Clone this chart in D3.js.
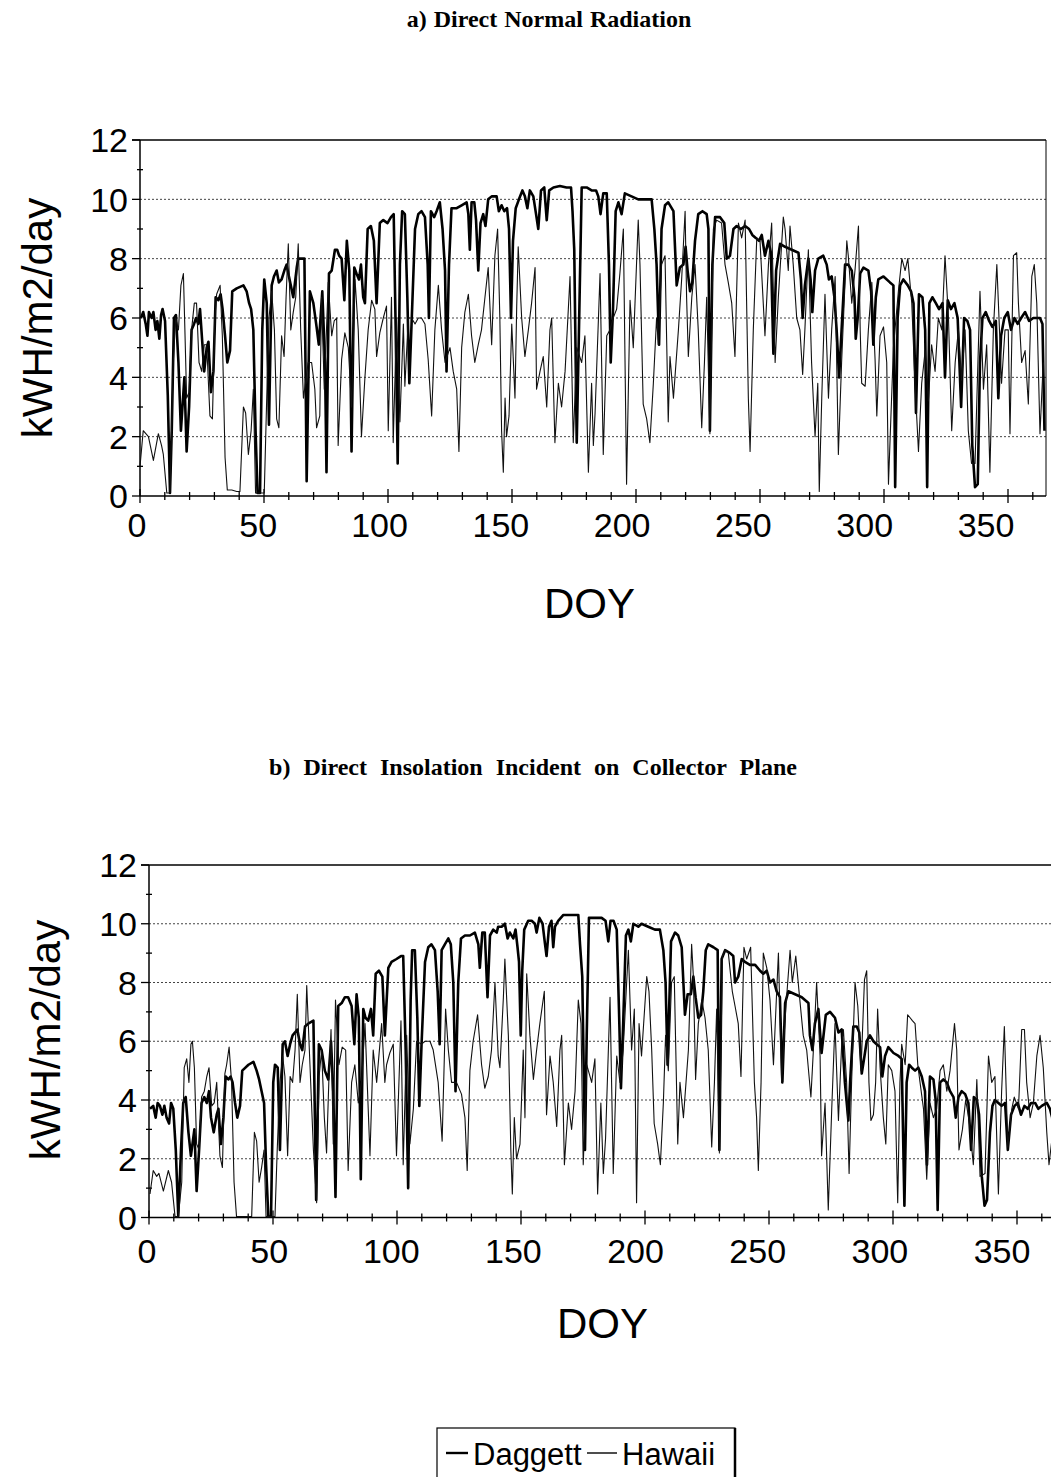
<!DOCTYPE html>
<html><head><meta charset="utf-8">
<script src="https://cdn.jsdelivr.net/npm/d3@7"></script>
<style>body{margin:0;background:#fff}svg{display:block}</style>
</head><body>
<svg id="c" width="1051" height="1477"></svg>
<script>
// ---------- data ----------
const xTickLabels = [0, 50, 100, 150, 200, 250, 300, 350];
const yTickLabels = [0, 2, 4, 6, 8, 10, 12];
const seriesNames = ["Daggett", "Hawaii"];
const panelTitles = ["a) Direct Normal Radiation", "b) Direct Insolation Incident on Collector Plane"];
const xTitle = "DOY";
const yTitle = "kWH/m2/day";

// [DOY, kWh/m2/day]
const dniDaggett = [[0.4,6.0],[1.3,6.2],[2.3,5.8],[3,5.4],[3.6,6.2],[4.7,6.0],[5.4,6.2],[6.3,5.6],[7,5.9],[7.8,5.3],[8.5,6.1],[9.1,6.3],[10.1,5.9],[11.2,3.4],[12.1,0.1],[12.8,2.2],[13.7,6.0],[14.5,6.1],[15.5,4.5],[16.5,2.2],[17.9,4.0],[18.8,1.5],[19.8,3.0],[20.8,5.6],[21.8,5.8],[22.6,6.0],[23.5,5.8],[24.2,6.3],[25.1,5.2],[25.9,4.2],[26.9,5.0],[27.6,5.2],[28.6,3.5],[29.6,4.2],[30.5,6.7],[31.6,6.6],[32.5,6.8],[33.3,6.3],[34.3,5.4],[35.2,4.5],[36.3,4.9],[37.2,6.9],[39,7.0],[41.7,7.1],[43,6.9],[44,6.5],[44.8,6.3],[45.7,5.6],[46.6,2.2],[47.4,0.1],[48.4,0.1],[49.3,5.6],[50.1,7.3],[51.1,6.5],[52,2.4],[53.1,7.1],[54,7.4],[55.1,7.6],[56,7.2],[57.1,7.3],[58.2,7.6],[59.1,7.8],[59.8,7.5],[60.8,7.1],[61.8,6.7],[63.2,7.7],[63.8,8.0],[65.2,8.0],[66.3,8.0],[67.2,0.5],[68.5,6.9],[69.9,6.5],[71.2,5.7],[72.1,5.1],[73.5,6.9],[74.6,4.5],[75.2,0.8],[76.2,7.5],[77.3,7.6],[78.6,8.3],[79.5,8.3],[80.3,8.1],[81.3,8.0],[82.4,6.6],[83.4,8.6],[84.4,7.6],[85.3,1.5],[86.4,7.7],[87.3,7.5],[88.3,7.3],[89.1,7.8],[90,6.7],[90.7,6.5],[91.8,9.0],[93.1,9.1],[94.3,8.6],[95.4,6.5],[96.7,9.2],[98.1,9.3],[99.8,9.2],[101.2,9.4],[102.3,9.5],[103.1,5.6],[103.9,1.1],[104.8,7.8],[105.7,9.6],[106.8,9.5],[107.8,6.7],[108.6,3.8],[109.5,5.8],[110.9,9.0],[112.2,9.5],[113.5,9.6],[114.9,9.4],[116,7.8],[116.5,6.0],[117.3,9.6],[118.6,9.4],[119.6,9.6],[120.9,9.9],[122,9.0],[123,7.6],[123.6,4.2],[124.6,7.8],[125.6,9.7],[127.7,9.7],[129.7,9.8],[131.7,9.9],[132.4,9.5],[133,8.3],[133.7,9.9],[134.8,9.9],[135.5,9.3],[136.4,7.6],[137.3,9.2],[138.4,9.5],[139.3,9.1],[140.4,10.0],[141.8,10.1],[143.8,10.1],[144.7,9.6],[145.8,9.8],[146.9,9.6],[148,9.7],[148.8,9.0],[149.6,6.0],[150.4,8.6],[151.5,9.7],[152.8,10.0],[154.2,10.3],[155.2,10.1],[156.2,9.7],[157.2,10.3],[158.6,10.1],[159.7,9.5],[160.6,9.0],[161.7,10.3],[163,10.4],[164,9.3],[165,10.3],[166.7,10.4],[169.3,10.45],[172,10.4],[173.8,10.4],[174.4,9.6],[175.1,8.3],[176.1,1.8],[177,5.6],[178.1,10.4],[180.1,10.4],[182.1,10.3],[183.9,10.3],[184.8,10.1],[185.7,9.5],[186.8,10.2],[188.2,10.2],[189.1,7.8],[189.8,4.5],[190.7,6.2],[191.8,9.6],[192.9,9.9],[194.2,9.5],[195.5,10.2],[198.2,10.1],[200.9,10.0],[203.6,10.0],[206.3,10.0],[207.4,9.0],[208.3,7.8],[209.3,5.1],[210.3,9.0],[211.7,9.8],[213,9.9],[215.1,9.6],[216.4,7.1],[217.7,7.7],[219.1,7.8],[220,8.4],[220.8,7.6],[221.8,6.9],[222.7,7.2],[223.8,8.6],[225.1,9.5],[226.8,9.6],[228.5,9.5],[229.2,9.0],[229.8,2.2],[230.8,7.8],[231.9,9.4],[233.9,9.4],[235.6,9.2],[236.6,8.0],[237.9,8.1],[239.3,9.0],[240.6,9.1],[242.3,9.0],[244,9.1],[245.6,9.0],[246.9,8.8],[248.3,8.7],[249.6,8.6],[250.7,8.8],[252,8.1],[253.4,8.6],[254.4,8.2],[255.4,4.8],[256.5,7.6],[258.1,8.5],[260.1,8.4],[262.8,8.3],[265.5,8.2],[266.5,7.3],[267.2,6.0],[268.1,7.1],[269.5,8.0],[270.4,7.3],[271.1,6.2],[272.2,7.6],[273.5,8.0],[275.5,8.1],[276.9,7.8],[277.8,7.3],[278.9,7.4],[280,6.7],[280.9,5.6],[281.9,4.0],[282.9,5.6],[284.3,7.8],[285.6,7.8],[287,7.6],[288.1,6.7],[288.6,5.3],[289.4,6.0],[290.4,7.5],[291.7,7.7],[293.7,7.6],[294.8,6.9],[295.7,5.1],[296.7,6.7],[297.7,7.3],[299.8,7.4],[302.4,7.2],[303.8,7.1],[304.5,0.3],[305.5,6.0],[306.5,7.1],[307.8,7.3],[309.6,7.1],[310.9,6.9],[311.9,6.5],[312.9,2.8],[314.1,6.8],[315.5,6.7],[316.6,5.6],[317.4,0.3],[318.3,6.5],[319.5,6.7],[320.9,6.5],[322.2,6.3],[323.6,6.5],[324.6,4.0],[325.7,6.6],[327,6.3],[328.4,6.5],[329.7,6.0],[331.1,3.0],[332.3,6.0],[333.6,5.9],[334.7,5.6],[335.6,1.7],[336.7,0.3],[337.8,0.4],[338.7,4.5],[339.7,6.0],[341,6.2],[342.4,5.9],[343.7,5.7],[345.1,5.9],[346.1,3.3],[347.2,5.4],[348.5,6.0],[349.9,6.2],[351.2,5.6],[352.6,6.0],[353.9,5.8],[355.3,6.0],[356.9,6.2],[358.5,5.9],[360.2,6.0],[361.6,6.0],[362.9,6.0],[363.9,5.8],[364.7,2.2]];

const dniHawaii = [[0,1.0],[1.3,2.2],[3.4,2.0],[5.4,1.2],[7.4,2.1],[8.7,1.7],[9.4,1.4],[10.8,0.1],[12.1,0.1],[13.4,4.5],[14.4,6.0],[15.5,5.6],[16.5,7.1],[17.5,7.5],[18.1,5.6],[18.8,3.3],[19.8,3.5],[20.8,5.6],[21.9,6.5],[22.8,6.5],[23.8,4.5],[24.9,4.2],[25.9,5.1],[26.9,5.1],[27.6,3.8],[28.2,2.7],[29.2,2.6],[30.2,6.0],[30.9,6.8],[32.3,7.1],[33.2,5.4],[34.3,1.3],[35.2,0.2],[37,0.2],[39,0.15],[40.3,0.15],[41.7,3.0],[42.6,2.8],[43.7,1.4],[44.8,2.2],[45.7,3.6],[46.6,0.1],[48.4,0.1],[50.1,0.1],[51.1,3.3],[52,6.0],[53.1,6.9],[54.2,5.6],[55.1,2.6],[56,2.3],[57.1,5.4],[58.1,4.7],[58.9,6.7],[59.8,8.5],[60.8,5.6],[61.8,6.2],[62.8,6.7],[63.8,8.5],[64.8,5.6],[65.9,3.3],[67.8,4.5],[69.2,4.5],[70.5,3.6],[71.2,2.3],[72.5,2.7],[73.2,6.7],[74.3,3.6],[75.9,7.2],[77.3,5.4],[78.3,5.9],[79.3,6.0],[79.9,1.7],[81.3,4.6],[82.6,5.5],[84,5.0],[85.3,3.0],[86.7,7.3],[88,5.6],[89.3,2.0],[90.7,4.0],[92,5.6],[93.4,6.6],[94.7,6.3],[95.4,4.7],[96.7,5.5],[98.1,6.0],[99.4,6.4],[100.1,2.2],[101.4,6.7],[102.1,1.8],[103.5,6.0],[104.8,2.5],[106.2,5.8],[106.8,3.7],[108.2,6.0],[109.5,6.0],[110.9,5.8],[112.2,6.0],[113.5,6.0],[114.9,5.8],[116.2,4.6],[117.6,2.7],[118.9,5.6],[120.3,7.1],[121.6,5.6],[123,4.5],[125,5.0],[126.3,4.2],[127.7,3.6],[128.6,1.5],[129.7,5.0],[131,6.2],[132.4,6.8],[133.7,5.4],[135,4.5],[136.4,5.1],[137.7,5.6],[139.1,6.7],[140.4,7.7],[141.8,5.1],[143.1,8.1],[144.2,9.0],[145.1,6.0],[145.8,2.2],[146.5,0.8],[147.2,3.3],[147.8,2.0],[148.8,2.7],[149.9,5.8],[151.2,3.3],[151.9,6.4],[152.5,8.4],[153.9,6.0],[155.2,4.7],[156.6,5.6],[157.9,6.5],[159.3,7.7],[159.9,3.6],[161.3,4.2],[162.6,4.7],[164,3.0],[165.3,5.6],[166,6.0],[167.3,1.8],[168.7,3.8],[170,3.0],[171.4,4.2],[173.4,7.4],[174.7,1.8],[176.1,5.0],[178.1,4.5],[179.4,5.4],[180.8,0.8],[182.1,3.8],[182.8,1.7],[183.5,2.8],[185.5,7.5],[186.8,1.4],[188.2,5.4],[189.5,5.6],[190.8,6.0],[192.2,6.3],[193.5,7.5],[194.9,9.0],[196.2,0.4],[197.6,6.6],[198.9,5.0],[200.9,9.3],[201.6,7.8],[202.9,3.1],[204.3,2.6],[205.6,1.8],[207,3.8],[208.3,6.0],[209,5.1],[210.3,7.8],[211.7,8.1],[213,2.5],[213.7,4.7],[215.1,3.3],[217.1,5.6],[218.4,7.3],[219.8,9.6],[220.4,6.7],[221.1,4.7],[222.5,6.7],[223.8,7.8],[225.1,5.6],[226.5,2.3],[227.6,4.5],[228.5,6.7],[229.8,2.1],[231.2,9.0],[232.5,9.3],[234.5,9.2],[235.9,7.8],[237.2,7.2],[238.6,6.5],[239.9,4.7],[241.3,9.2],[242.6,8.7],[244,9.3],[245.3,3.3],[246,1.5],[247.3,5.6],[248.7,8.7],[250,8.6],[252,5.4],[253.4,7.8],[254.7,9.2],[256.1,4.5],[257.4,6.7],[259.4,9.4],[260.1,9.0],[261.4,7.6],[262.1,9.1],[263.4,7.8],[264.8,6.0],[266.1,5.6],[267.2,4.1],[268.1,5.6],[269.5,8.3],[270.8,4.5],[272.2,2.0],[273.3,3.8],[273.9,0.15],[274.9,3.3],[276.2,6.8],[277.6,3.3],[278.9,5.6],[280.3,7.4],[281.6,1.4],[282.9,4.5],[285,8.6],[285.6,8.1],[287,6.5],[288.3,7.6],[289.7,9.1],[290.4,5.6],[291,3.8],[292.4,3.7],[293.7,5.6],[295.1,7.2],[296.4,4.6],[297.1,2.7],[298.4,5.4],[299.8,5.7],[301.1,4.5],[301.8,0.4],[303.8,5.0],[305.8,6.9],[307.2,8.0],[308.5,7.6],[309.6,8.0],[311.2,6.5],[312.5,3.8],[313.9,1.5],[315.2,3.8],[316.6,4.9],[317.9,3.2],[319.2,5.1],[320.6,4.2],[321.9,6.0],[323.3,5.6],[324.6,8.1],[326,6.0],[327.3,2.2],[328.7,4.5],[330,5.6],[331.3,3.9],[332.7,5.6],[334,2.2],[335.3,1.1],[336.7,1.1],[338.7,6.9],[340.1,3.6],[341.4,5.1],[342.7,0.8],[344.1,5.6],[345.5,7.8],[346.8,5.1],[347.4,3.8],[348.8,5.6],[350.1,5.6],[350.8,2.1],[352.2,8.1],[353.5,8.2],[354.2,6.5],[355.5,4.5],[356.9,4.9],[358.2,3.1],[359.6,7.4],[360.6,7.8],[361.6,6.5],[362.9,2.1],[364.2,4.5]];

const dicDaggett = [[0.4,3.7],[1.7,3.8],[2.7,3.4],[3.5,3.9],[4.4,3.8],[5.4,3.5],[6.2,3.8],[7.1,3.4],[8.1,3.2],[8.9,3.9],[9.8,3.7],[10.8,2.3],[11.8,0.05],[12.9,2.3],[13.8,3.9],[14.8,4.1],[15.9,2.9],[16.9,2.1],[18.3,3.0],[19.2,0.9],[20.2,2.3],[21.2,3.9],[22.3,4.1],[23.3,3.9],[24.2,4.3],[25,3.4],[26.1,2.9],[27.3,3.5],[28,3.7],[29,2.5],[30,3.4],[30.9,4.8],[32,4.7],[32.9,4.8],[33.7,4.6],[34.7,3.9],[35.6,3.4],[36.7,3.8],[37.6,5.0],[40.1,5.2],[42.1,5.3],[43.4,5.0],[44.4,4.7],[45.4,4.3],[46.4,3.9],[47.2,1.8],[48.1,0.03],[49.2,0.03],[50.1,4.6],[50.8,5.2],[51.9,5.1],[52.8,2.3],[53.9,5.9],[54.8,6.0],[55.9,5.5],[56.9,5.9],[57.9,6.2],[58.9,6.3],[59.8,6.4],[60.9,5.9],[61.8,5.7],[62.9,6.5],[64.2,6.6],[66.3,6.7],[67.4,0.6],[68.5,5.9],[69.6,5.7],[70.9,5.0],[72.3,4.7],[73.4,6.0],[74.3,4.3],[75.2,0.7],[76.3,7.2],[77.7,7.3],[79,7.5],[80.3,7.5],[81.7,7.2],[82.8,5.9],[83.7,7.6],[84.6,6.8],[85.4,1.3],[86.4,7.1],[87.3,6.8],[88.4,6.7],[89.5,7.1],[90.4,6.2],[91.4,8.3],[92.7,8.4],[94.1,8.2],[95.1,6.2],[96.5,8.5],[97.8,8.7],[99.8,8.8],[101.6,8.9],[102.5,8.9],[103.5,5.7],[104.5,1.0],[105.5,7.4],[106.1,9.1],[107.2,9.1],[108.2,6.8],[109,3.8],[109.9,5.9],[111.3,8.7],[112.6,9.2],[113.9,9.3],[115.3,9.1],[116.4,7.7],[117.2,5.9],[118,9.1],[119.3,9.3],[120.7,9.5],[121.7,9.3],[122.7,8.0],[123.6,4.3],[124.7,8.0],[125.8,9.5],[127.4,9.6],[129.4,9.6],[131.4,9.7],[132.8,9.3],[133.4,8.5],[134.4,9.7],[135.4,9.7],[136.5,7.5],[137.5,9.6],[138.8,9.8],[140.2,9.7],[140.8,9.9],[142.2,9.9],[143.5,10.0],[144.6,9.5],[145.5,9.7],[146.9,9.5],[147.8,9.8],[148.6,9.2],[149.2,8.7],[149.9,6.2],[150.5,8.4],[151.3,9.8],[152.9,10.1],[154.3,10.1],[155.6,10.0],[156.3,9.7],[157.4,10.2],[158.7,10.0],[159.7,9.3],[160.3,8.9],[161.3,9.9],[162.3,10.1],[163,9.2],[163.7,9.9],[165,10.1],[167.1,10.3],[170.4,10.3],[173.1,10.3],[173.8,9.3],[174.7,8.2],[175.8,2.3],[176.5,6.2],[177.4,10.2],[179.8,10.2],[182.5,10.2],[184.1,10.1],[185.2,9.4],[186.1,10.1],[187.3,10.1],[188.6,9.8],[189.5,7.1],[190.3,4.4],[191.2,6.6],[192.3,9.6],[193.3,9.8],[194.3,9.4],[195.3,10.0],[197.3,9.9],[198.6,10.0],[201.3,9.9],[204,9.8],[206,9.8],[207.4,9.1],[208.3,8.0],[209.1,5.2],[210.5,9.4],[212.1,9.7],[213.4,9.6],[214.8,9.2],[216.1,6.9],[217.2,7.6],[218.5,7.6],[219.5,8.2],[220.4,7.5],[221.5,6.8],[222.6,6.9],[223.5,7.7],[224.5,9.1],[225.5,9.3],[227.6,9.2],[229.3,9.1],[230,2.3],[230.9,8.8],[232.3,9.1],[234.3,9.0],[235.6,8.9],[236.3,8.0],[237.6,8.2],[239,8.8],[240.3,8.7],[242.3,8.6],[244.4,8.6],[246.4,8.4],[247.7,8.3],[249.1,8.4],[250.4,8.0],[251.8,8.1],[253.1,7.7],[254.4,7.5],[255.4,4.6],[256.5,7.3],[257.8,7.7],[260.5,7.6],[263.2,7.5],[265.9,7.3],[266.5,6.2],[267.5,5.7],[268.5,6.6],[269.9,7.1],[271.2,5.6],[272.9,6.9],[274.6,7.0],[276.6,6.8],[278,6.3],[279.3,6.4],[280.6,4.6],[282,3.3],[282.7,4.6],[284,6.5],[285.4,6.5],[286.4,6.3],[287.4,4.9],[288.5,5.5],[289.4,6.0],[290.7,6.2],[292.1,6.0],[293.4,5.9],[294.8,5.8],[295.7,4.8],[296.8,5.5],[298.1,5.8],[300.2,5.6],[302.2,5.5],[303.5,5.4],[304.6,0.4],[305.5,4.6],[306.5,5.2],[307.6,5.1],[308.9,5.0],[310.2,5.1],[311.6,4.8],[312.9,4.3],[313.7,1.8],[314.9,4.8],[316.3,4.7],[317.2,4.0],[318,0.26],[319,4.6],[320.3,4.7],[321.7,4.6],[323,4.3],[324.4,4.1],[325.3,3.4],[326.4,4.1],[327.7,4.3],[329.1,4.2],[330.4,3.9],[331.5,2.3],[332.6,4.1],[333.8,4.0],[334.7,3.5],[335.8,1.4],[336.9,0.4],[337.9,0.6],[339.1,2.9],[340.1,3.8],[341.1,4.0],[342.5,3.9],[343.8,3.8],[345.2,3.9],[346.3,2.3],[347.6,3.5],[349,3.8],[350.3,3.9],[351.6,3.5],[353,3.8],[354.3,3.7],[355.7,3.9],[357.3,3.9],[358.6,3.7],[360,3.8],[362,3.9],[363.3,3.7],[364.2,3.4],[365,1.8]];

const dicHawaii = [[0.4,0.8],[1.7,1.6],[3.1,1.4],[4,1.5],[5.8,0.9],[7.8,1.6],[9.1,1.2],[10.5,0.03],[11.8,0.03],[13.2,1.2],[14.2,5.1],[15.2,5.4],[16.1,4.6],[16.9,5.9],[17.5,6.0],[18.3,5.1],[19.2,2.5],[20.2,2.3],[21.2,4.1],[22.3,4.3],[23.3,4.8],[24.2,5.1],[25.3,3.8],[26.3,3.9],[27.3,4.6],[28.6,2.1],[29.6,1.7],[30.6,4.9],[31.3,5.2],[32.3,5.8],[33.3,4.6],[34.3,1.2],[35.3,0.03],[37.4,0.03],[40.1,0.03],[41.4,0.03],[42.5,2.9],[43.4,2.6],[44.4,1.2],[45.4,1.7],[46.4,2.3],[47.2,0.03],[48.8,0.03],[50.8,0.03],[51.7,2.3],[52.8,4.6],[53.9,5.5],[54.8,4.8],[55.9,2.1],[56.9,4.8],[57.9,4.6],[58.9,5.7],[59.8,7.6],[60.9,4.6],[61.8,5.2],[62.9,5.7],[63.6,7.9],[64.9,5.2],[66.3,2.3],[67.6,0.5],[68.6,4.8],[69.6,5.7],[70.7,3.4],[71.6,2.2],[72.5,4.6],[73.4,6.4],[74.3,2.5],[75.2,7.4],[76.6,5.2],[77.9,5.8],[79.3,5.7],[80.3,1.6],[81.7,4.6],[83,5.2],[84.4,3.9],[85.7,4.6],[87.1,6.6],[89.1,2.1],[90.4,5.7],[91.8,4.6],[93.8,6.6],[95.1,4.6],[95.8,5.2],[97.1,5.6],[98.5,5.9],[99.8,2.1],[101.6,6.7],[102.5,1.8],[103.9,6.2],[105.2,2.5],[106.6,3.7],[107.9,6.0],[109.9,5.9],[111.3,6.0],[113.3,6.0],[114.6,5.7],[116.6,4.6],[118.2,2.6],[119.6,7.1],[120.7,5.7],[122,4.6],[124,4.6],[126,4.2],[127.4,3.4],[128.3,1.6],[129.4,5.0],[130.7,6.0],[132.5,6.9],[134.1,5.2],[135.4,4.4],[136.8,4.8],[138.1,5.7],[139.5,8.0],[140.8,5.5],[141.5,5.1],[142.9,7.5],[143.5,8.8],[144.9,6.2],[145.9,2.3],[146.5,0.8],[147.3,3.4],[148.2,2.0],[149.6,2.5],[150.9,5.7],[151.6,3.4],[152.3,8.3],[153.6,6.2],[155,4.7],[156.3,5.7],[157.6,6.6],[159.4,7.7],[160.3,3.5],[161.7,5.5],[163,4.6],[164.4,3.1],[165.7,5.7],[166.4,6.2],[167.5,1.8],[169.1,3.9],[170.4,3.0],[171.8,4.3],[173.1,7.4],[174.2,6.6],[175.1,1.8],[176.5,5.2],[178.5,4.6],[179.8,5.4],[180.9,0.8],[182.2,3.9],[183.2,1.5],[184.1,2.7],[185.9,7.5],[187.2,1.5],[188.6,5.5],[189.9,4.6],[191.2,5.7],[192.6,8.0],[193.3,9.1],[194.6,5.7],[195.7,7.1],[196.6,0.5],[197.6,6.6],[198.6,5.5],[200.7,8.2],[201.6,7.7],[202.7,5.7],[203.7,3.2],[205.1,2.5],[206.2,1.8],[207.4,3.9],[208.3,6.2],[209.4,5.0],[210.7,8.0],[211.8,8.2],[213.2,2.5],[214.1,4.6],[215.5,3.4],[217.5,5.7],[218.8,9.3],[219.5,8.2],[220.4,4.7],[221.5,6.6],[222.9,7.4],[224.2,6.8],[225.5,5.7],[226.9,2.4],[228,4.6],[228.9,7.1],[230,2.2],[231.2,8.9],[232.3,9.1],[233.6,9.0],[235.2,7.7],[236.3,7.2],[237.6,6.6],[238.7,4.8],[239.9,9.2],[241,8.8],[242.6,9.2],[244.1,4.6],[245,3.4],[245.7,1.6],[246.8,4.6],[247.7,9.0],[249.1,8.5],[250.4,7.4],[251.8,5.2],[253.1,7.7],[253.8,9.0],[255.1,4.6],[256.5,6.8],[258.5,9.1],[259.4,8.0],[260.8,8.9],[262.1,7.7],[263.8,6.2],[265.2,5.7],[266.9,4.1],[267.9,5.7],[269.2,8.0],[270.6,5.5],[271.2,2.1],[272.6,3.9],[273.9,0.26],[275.3,3.7],[276.6,6.6],[278,3.3],[279.3,5.9],[280,6.4],[281.3,4.6],[282.3,1.5],[283.3,4.6],[284.7,8.0],[285.8,7.2],[287.1,5.0],[288.5,8.1],[289.4,8.4],[290.3,4.6],[291.1,3.3],[292.1,3.5],[293,4.6],[293.8,7.1],[294.8,5.1],[296.1,3.4],[297.1,2.5],[298.1,5.2],[299.5,5.0],[300.8,4.3],[301.9,0.5],[302.8,4.6],[303.5,5.9],[304.9,5.2],[305.9,6.9],[306.9,6.8],[307.8,6.7],[308.9,6.6],[310,5.2],[310.9,4.6],[312.3,3.7],[313.6,1.3],[314.9,3.9],[316.3,3.4],[317.6,3.7],[319,5.0],[320.3,5.2],[321.7,4.3],[323,5.0],[324.8,6.6],[325.7,5.7],[326.6,2.3],[328,3.0],[329.3,4.0],[330.7,3.3],[332.4,1.8],[333.8,4.7],[335.1,1.4],[337.1,1.5],[338.5,5.5],[339.8,4.6],[341.1,4.8],[342.5,0.8],[343.8,4.3],[344.9,6.5],[346.3,2.4],[347.9,3.7],[348.9,4.1],[350.6,3.7],[351.9,6.4],[353,6.4],[353.9,4.6],[355.3,3.4],[356.6,3.9],[358,5.5],[359.3,6.2],[360.6,5.1],[362,2.9],[362.9,1.8],[364,2.6]];

// ---------- drawing ----------
const svg = d3.select("#c");
const FONT = "'Liberation Sans', Arial, sans-serif";

const layouts = [
  {left:140, top:140, bottom:496, right:1046, rightBorder:true,  lab0:137, lab350:986, labBase:537, doyBase:618, ylabX:52, ylabY:318, titleX:549, titleY:27, wordSp:1},
  {left:149, top:865, bottom:1217.5, right:1054, rightBorder:false, lab0:147, lab350:1002, labBase:1263, doyBase:1338, ylabX:60, ylabY:1040, titleX:533, titleY:775, wordSp:7}
];
const data = [[dniDaggett, dniHawaii],[dicDaggett, dicHawaii]];

layouts.forEach((L, i) => {
  const g = svg.append("g");
  const x = d3.scaleLinear().domain([0, 365]).range([L.left, L.left + 365 * 2.48]);
  const y = d3.scaleLinear().domain([0, 12]).range([L.bottom, L.top]);
  const xLab = d3.scaleLinear().domain([0, 350]).range([L.lab0, L.lab350]);

  // title
  g.append("text").attr("x", L.titleX).attr("y", L.titleY).attr("text-anchor","middle")
    .attr("font-family","'Liberation Serif','Times New Roman',serif").attr("font-weight","bold")
    .attr("font-size", 24).attr("word-spacing", L.wordSp).text(panelTitles[i]);

  // gridlines
  g.selectAll(".grid").data(yTickLabels.filter(v => v > 0 && v < 12)).join("line")
    .attr("x1", x(0)).attr("x2", L.right).attr("y1", d => y(d)).attr("y2", d => y(d))
    .attr("stroke", "#444").attr("stroke-width", 1).attr("stroke-dasharray", "2,2");
  // top border
  g.append("line").attr("x1", x(0)-8).attr("x2", L.right).attr("y1", y(12)).attr("y2", y(12))
    .attr("stroke","#000").attr("stroke-width",1.6);
  if (L.rightBorder) g.append("line").attr("x1", L.right).attr("x2", L.right)
    .attr("y1", y(12)).attr("y2", y(0)).attr("stroke","#000").attr("stroke-width",1);

  // axes lines
  g.append("line").attr("x1", x(0)).attr("x2", x(0)).attr("y1", y(0)).attr("y2", y(12))
    .attr("stroke","#000").attr("stroke-width",1.5);
  g.append("line").attr("x1", x(0)).attr("x2", L.right).attr("y1", y(0)).attr("y2", y(0))
    .attr("stroke","#000").attr("stroke-width",1.6);

  // y ticks
  g.selectAll(".yt").data(d3.range(0, 13)).join("line")
    .attr("x1", d => d % 2 === 0 ? x(0) - 8 : x(0) - 3)
    .attr("x2", d => d % 2 === 0 ? x(0) : x(0) + 3)
    .attr("y1", d => y(d)).attr("y2", d => y(d))
    .attr("stroke","#000").attr("stroke-width",1.3);
  // x ticks
  g.selectAll(".xt").data(d3.range(0, 361, 10)).join("line")
    .attr("x1", d => x(d)).attr("x2", d => x(d))
    .attr("y1", d => y(0) - (d % 50 === 0 ? 7 : 4))
    .attr("y2", d => y(0) + (d % 50 === 0 ? 7 : 4))
    .attr("stroke","#000").attr("stroke-width",1.3);

  // tick labels
  g.selectAll(".yl").data(yTickLabels).join("text")
    .attr("x", x(0) - 12).attr("y", d => y(d)).attr("dy","0.36em")
    .attr("text-anchor","end").attr("font-family",FONT).attr("font-size",34).text(d => d);
  g.selectAll(".xl").data(xTickLabels).join("text")
    .attr("x", d => xLab(d)).attr("y", L.labBase)
    .attr("text-anchor","middle").attr("font-family",FONT).attr("font-size",34).text(d => d);

  // axis titles
  g.append("text").attr("x", (L.lab0 + L.lab350) / 2 + 28).attr("y", L.doyBase)
    .attr("text-anchor","middle").attr("font-family",FONT).attr("font-size",42).text(xTitle);
  g.append("text").attr("transform", `translate(${L.ylabX},${L.ylabY}) rotate(-90)`)
    .attr("text-anchor","middle").attr("font-family",FONT).attr("font-size",42).text(yTitle);

  // series
  const line = d3.line().x(d => x(d[0])).y(d => y(d[1]));
  const [dag, haw] = data[i];
  g.append("path").datum(dag).attr("d", line).attr("fill","none")
    .attr("stroke","#000").attr("stroke-width",2.6).attr("stroke-linejoin","round");
  g.append("path").datum(haw).attr("d", line).attr("fill","none")
    .attr("stroke","#111").attr("stroke-width",1.1).attr("stroke-linejoin","round");
});

// legend
const lg = svg.append("g");
lg.append("rect").attr("x", 437).attr("y", 1428).attr("width", 298).attr("height", 60)
  .attr("fill","#fff").attr("stroke","#000").attr("stroke-width",1.2);
lg.append("line").attr("x1", 735).attr("x2", 735).attr("y1", 1428).attr("y2", 1477)
  .attr("stroke","#000").attr("stroke-width",2.5);
const legItems = [{name: seriesNames[0], lx: 446, lw: 22, sw: 2.4}, {name: seriesNames[1], lx: 587, lw: 30, sw: 1.4}];
legItems.forEach(it => {
  lg.append("line").attr("x1", it.lx).attr("x2", it.lx + it.lw).attr("y1", 1453).attr("y2", 1453)
    .attr("stroke","#000").attr("stroke-width", it.sw);
  lg.append("text").attr("x", it.lx + it.lw + 5).attr("y", 1465).attr("font-family",FONT)
    .attr("font-size",31).text(it.name);
});
</script>
</body></html>
